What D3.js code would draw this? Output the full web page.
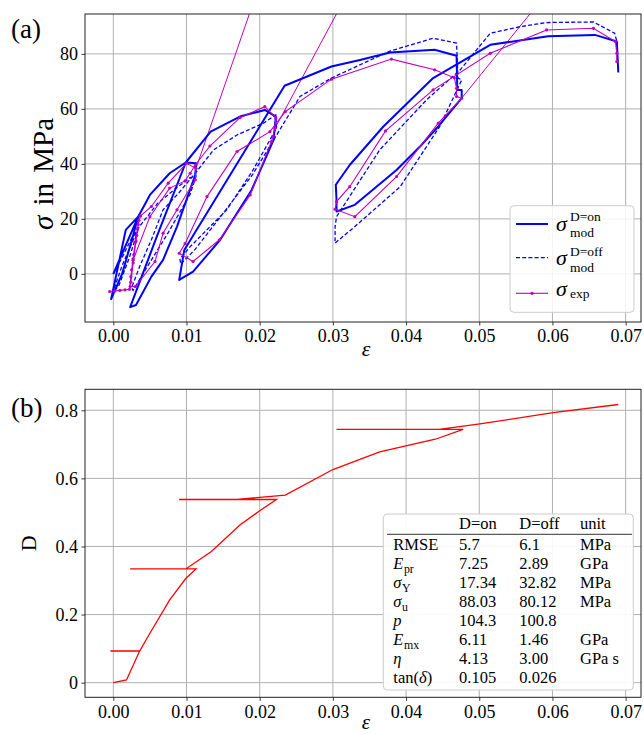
<!DOCTYPE html>
<html>
<head>
<meta charset="utf-8">
<script src="https://cdn.jsdelivr.net/npm/d3@7"></script>
<style>
  body { margin: 0; background: #fff; }
  svg text { font-family: "Liberation Serif", "DejaVu Serif", serif; fill: #000; }
</style>
</head>
<body>
<svg id="chart" width="644" height="734"></svg>
<script>
// ---- data: stress–strain histories (strain, stress in MPa) ----
const sigmaModOn = [
  [0, 0], [0.0034, 20.8], [0.0025, 12], [0.0012, 0], [-0.0003, -9.2], [0.0017, 16], [0.0034, 20.8],
  [0.005, 28.7], [0.0077, 36.6], [0.0099, 40.5], [0.0113, 40.2], [0.0112, 36], [0.0087, 17.2],
  [0.0068, 5.1], [0.0052, -1], [0.0031, -11.3], [0.0023, -12.1], [0.006, 14], [0.0099, 40.5],
  [0.0133, 51.7], [0.0173, 57.2], [0.0207, 59.6], [0.0222, 57.2], [0.0219, 48.7], [0.0189, 30.5],
  [0.0146, 12.4], [0.0109, 0.8], [0.009, -2.2], [0.0097, 8.7], [0.0234, 68.4], [0.0298, 75.4],
  [0.0337, 77.8], [0.0378, 80.5], [0.0439, 81.5], [0.0469, 79.3], [0.047, 66.9], [0.0476, 66.9],
  [0.0476, 63.9], [0.0444, 53.6], [0.0419, 46.3], [0.0387, 37.8], [0.033, 25.1], [0.0305, 22.7],
  [0.0305, 26.5], [0.0304, 32.4], [0.0323, 39.6], [0.0369, 53.6], [0.0437, 71.2], [0.0515, 83.3],
  [0.0594, 86.4], [0.0658, 86.9], [0.0688, 84.5], [0.069, 73.2]
];
const sigmaModOff = [
  [0, 0], [0.0012, 6], [0.0025, 13], [0.0035, 17], [0.0022, 6], [0.0008, -4], [-0.0001, -7],
  [0.0012, 3], [0.0025, 11], [0.0035, 17], [0.006, 25.5], [0.0085, 31], [0.0105, 35], [0.0113, 35.5],
  [0.0105, 29], [0.0075, 15], [0.0045, 2], [0.0027, -6], [0.0025, -5], [0.0036, 2.7], [0.0052, 12.4],
  [0.0068, 23.3], [0.0089, 29.3], [0.0112, 36.6], [0.0137, 45.1], [0.0169, 50.5], [0.0205, 54.8],
  [0.0222, 57.8], [0.0223, 53], [0.0191, 37.8], [0.0155, 23.3], [0.0105, 9.9], [0.0091, 5.5],
  [0.0092, 3.5], [0.0112, 9], [0.015, 22], [0.019, 36], [0.0222, 50], [0.0255, 64.5], [0.0298, 71.2],
  [0.0345, 77], [0.0378, 81], [0.0437, 85.7], [0.0469, 83.9], [0.0471, 71.2], [0.0476, 70.5],
  [0.0446, 53.6], [0.0392, 31.7], [0.033, 17.2], [0.0303, 11.2], [0.0303, 17.2], [0.0305, 20.8],
  [0.0364, 45.1], [0.0428, 63.3], [0.0474, 74.2], [0.0515, 87.5], [0.0556, 89.9], [0.0592, 91.4],
  [0.0656, 91.6], [0.0685, 87.5], [0.0689, 83.5]
];
const sigmaExp = [
  [-0.0005, -6.4], [0.0002, -6.2], [0.0009, -6.0], [0.0016, -5.8], [0.0022, -5.6], [0.0024, -1.0],
  [0.0027, 5.5], [0.003, 11.5], [0.0033, 16.5], [0.0035, 19.5], [0.0032, 14], [0.0028, 7],
  [0.0025, 1.5], [0.0024, -3], [0.0027, 4], [0.0031, 12], [0.0034, 18], [0.0037, 21],
  [0.0052, 24.5], [0.0075, 33], [0.01, 40.2], [0.0113, 38.4], [0.0112, 34.2], [0.0087, 23.3],
  [0.0068, 14.8], [0.0057, 4.5], [0.003, -4.6], [0.0023, -4.6], [0.0027, 5], [0.005, 20.8],
  [0.0077, 31.2], [0.0098, 33.8], [0.0105, 36.6], [0.0112, 39.6], [0.0132, 46.5], [0.0173, 56.8],
  [0.0207, 60.8], [0.0222, 56.8], [0.0221, 53], [0.0218, 50], [0.0216, 48.1], [0.0187, 28.7],
  [0.0145, 12.4], [0.0109, 4.5], [0.009, 7.5], [0.0098, 11], [0.0128, 28.1], [0.0169, 44.5],
  [0.0214, 51.7], [0.0235, 59], [0.0298, 70.8], [0.038, 78.1], [0.0439, 74.2], [0.0466, 71.3],
  [0.0469, 67.5], [0.0469, 64.5], [0.0476, 63.9], [0.0444, 54.8], [0.0387, 35.4], [0.033, 20.8],
  [0.0303, 23.5], [0.0305, 26.3], [0.0323, 31.7], [0.0372, 52], [0.0437, 66.9], [0.0515, 80.2],
  [0.0592, 88.7], [0.0656, 89.3], [0.0686, 84.5], [0.0688, 80.2], [0.0688, 77.2]
];
// reloading stiffness lines of the experiment (start point, end point beyond the top)
const expStiffnessLines = [
  [[0.0113, 38.4], [0.0193, 100]],
  [[0.0221, 53.0], [0.0316, 100]],
  [[0.0476, 63.9], [0.0586, 100]]
];
// damage variable over strain
const damage = [
  [0, 0], [0.0018, 0.008], [0.0036, 0.093], [-0.0004, 0.093], [0.0036, 0.093], [0.005, 0.145],
  [0.0077, 0.243], [0.0099, 0.306], [0.0113, 0.334], [0.0023, 0.334], [0.0099, 0.334],
  [0.0134, 0.385], [0.0173, 0.463], [0.02, 0.505], [0.0223, 0.538], [0.009, 0.538], [0.0169, 0.538],
  [0.0235, 0.551], [0.03, 0.626], [0.0364, 0.678], [0.044, 0.715], [0.0478, 0.744], [0.0305, 0.744],
  [0.0445, 0.744], [0.0501, 0.76], [0.0601, 0.793], [0.069, 0.817]
];
const strainTicks = [0, 0.01, 0.02, 0.03, 0.04, 0.05, 0.06, 0.07];
const stressTicks = [0, 20, 40, 60, 80];
const damageTicks = [0, 0.2, 0.4, 0.6, 0.8];
const damageTickLabels = ["0", "0.2", "0.4", "0.6", "0.8"];

// fitted parameter table
const paramLabels = ["RMSE", "*E*_pr", "*σ*_Y", "*σ*_u", "*p*", "*E*_mx", "*η*", "tan(*δ*)"];
const valuesOn = ["5.7", "7.25", "17.34", "88.03", "104.3", "6.11", "4.13", "0.105"];
const valuesOff = ["6.1", "2.89", "32.82", "80.12", "100.8", "1.46", "3.00", "0.026"];
const paramUnits = ["MPa", "GPa", "MPa", "MPa", "", "GPa", "GPa s", ""];
const tableHeader = ["", "D=on", "D=off", "unit"];

// ---- layout ----
const svg = d3.select("#chart");
const C_ON = "#0000ff", C_EXP = "#bf00bf", C_D = "#ff0000";
const GRID = "#b0b0b0";
const boxA = { left: 85, right: 641, top: 14, bottom: 322 };
const boxB = { left: 85, right: 641, top: 389.3, bottom: 697.3 };
const xDomain = [-0.00387, 0.0721];

const xA = d3.scaleLinear().domain(xDomain).range([boxA.left, boxA.right]);
const yA = d3.scaleLinear().domain([-17.5, 94.5]).range([boxA.bottom, boxA.top]);
const xB = d3.scaleLinear().domain(xDomain).range([boxB.left, boxB.right]);
const yB = d3.scaleLinear().domain([-0.043, 0.8617]).range([boxB.bottom, boxB.top]);

const defs = svg.append("defs");
function clip(id, b) {
  defs.append("clipPath").attr("id", id).append("rect")
    .attr("x", b.left).attr("y", b.top).attr("width", b.right - b.left).attr("height", b.bottom - b.top);
}
clip("clipA", boxA); clip("clipB", boxB);

function grid(g, x, y, xt, yt, b) {
  g.selectAll(null).data(xt).enter().append("line")
    .attr("x1", d => x(d)).attr("x2", d => x(d)).attr("y1", b.top).attr("y2", b.bottom)
    .attr("stroke", GRID).attr("stroke-width", 1);
  g.selectAll(null).data(yt).enter().append("line")
    .attr("y1", d => y(d)).attr("y2", d => y(d)).attr("x1", b.left).attr("x2", b.right)
    .attr("stroke", GRID).attr("stroke-width", 1);
}

function axes(x, y, b, yTicks, yFmt, pad) {
  const ax = svg.append("g").attr("transform", `translate(0,${b.bottom})`)
    .call(d3.axisBottom(x).tickValues(strainTicks).tickFormat(d3.format(".2f")).tickSize(3.5).tickPadding(pad));
  const ay = svg.append("g").attr("transform", `translate(${b.left},0)`)
    .call(d3.axisLeft(y).tickValues(yTicks).tickFormat(yFmt).tickSize(3.5).tickPadding(3.5));
  [ax, ay].forEach(a => {
    a.select(".domain").remove();
    a.selectAll(".tick line").attr("stroke", "#222").attr("stroke-width", 0.9);
    a.selectAll(".tick text").attr("font-size", 18).attr("font-family", "Liberation Serif");
  });
  svg.append("rect").attr("x", b.left).attr("y", b.top)
    .attr("width", b.right - b.left).attr("height", b.bottom - b.top)
    .attr("fill", "none").attr("stroke", "#222").attr("stroke-width", 1);
}

// ---- panel (a) ----
const gA = svg.append("g");
grid(gA, xA, yA, strainTicks, stressTicks, boxA);
const lineA = d3.line().x(d => xA(d[0])).y(d => yA(d[1]));
const plotA = svg.append("g").attr("clip-path", "url(#clipA)");

plotA.selectAll(".stiff").data(expStiffnessLines).enter().append("path")
  .attr("d", lineA).attr("fill", "none").attr("stroke", C_EXP).attr("stroke-width", 1);
plotA.append("path").datum(sigmaModOff).attr("d", lineA).attr("fill", "none")
  .attr("stroke", C_ON).attr("stroke-width", 1.3).attr("stroke-dasharray", "4,2.2");
plotA.append("path").datum(sigmaModOn).attr("d", lineA).attr("fill", "none")
  .attr("stroke", C_ON).attr("stroke-width", 2).attr("stroke-linejoin", "round");
plotA.append("path").datum(sigmaExp).attr("d", lineA).attr("fill", "none")
  .attr("stroke", C_EXP).attr("stroke-width", 1.1);
plotA.selectAll(".mk").data(sigmaExp).enter().append("circle")
  .attr("cx", d => xA(d[0])).attr("cy", d => yA(d[1])).attr("r", 1.6).attr("fill", C_EXP);

axes(xA, yA, boxA, stressTicks, d3.format("d"), 3.5);

// legend
const lg = svg.append("g");
lg.append("rect").attr("x", 510).attr("y", 205.7).attr("width", 124).attr("height", 106.6)
  .attr("rx", 4).attr("fill", "#fff").attr("fill-opacity", 0.85).attr("stroke", "#cccccc").attr("stroke-width", 1);
const legendRows = [
  { y: 224, dash: null, w: 2, sup: "D=on", sub: "mod", sb: 231, supB: 220.5, subB: 236.5 },
  { y: 257.7, dash: "4,2.2", w: 1.3, sup: "D=off", sub: "mod", sb: 265, supB: 255.5, subB: 271.5 },
  { y: 293.3, dash: null, w: 1.1, sup: null, sub: "exp", sb: 295.5, supB: 0, subB: 298, marker: true }
];
legendRows.forEach(r => {
  const col = r.marker ? C_EXP : C_ON;
  lg.append("line").attr("x1", 516).attr("x2", 548).attr("y1", r.y).attr("y2", r.y)
    .attr("stroke", col).attr("stroke-width", r.w).attr("stroke-dasharray", r.dash);
  if (r.marker) lg.append("circle").attr("cx", 532).attr("cy", r.y).attr("r", 1.6).attr("fill", col);
  lg.append("text").attr("x", 556).attr("y", r.sb).attr("font-size", 22).attr("font-style", "italic").text("σ");
  if (r.sup) lg.append("text").attr("x", 570).attr("y", r.supB).attr("font-size", 13.5).text(r.sup);
  lg.append("text").attr("x", 570).attr("y", r.subB).attr("font-size", 13.5).text(r.sub);
});

// axis labels (a)
svg.append("text").attr("x", 366).attr("y", 356).attr("text-anchor", "middle")
  .attr("font-size", 22).attr("font-style", "italic").text("ε");
svg.append("text").attr("transform", "translate(53,174) rotate(-90)").attr("text-anchor", "middle")
  .attr("font-size", 29).attr("word-spacing", 3)
  .call(t => {
    t.append("tspan").attr("font-style", "italic").text("σ");
    t.append("tspan").text(" in MPa");
  });
svg.append("text").attr("x", 11).attr("y", 37.5).attr("font-size", 27).text("(a)");

// ---- panel (b) ----
const gB = svg.append("g");
grid(gB, xB, yB, strainTicks, damageTicks, boxB);
const lineB = d3.line().x(d => xB(d[0])).y(d => yB(d[1]));
svg.append("g").attr("clip-path", "url(#clipB)").append("path").datum(damage)
  .attr("d", lineB).attr("fill", "none").attr("stroke", C_D).attr("stroke-width", 1.3);
axes(xB, yB, boxB, damageTicks, (d, i) => damageTickLabels[i], 4.5);

svg.append("text").attr("x", 366).attr("y", 728.5).attr("text-anchor", "middle")
  .attr("font-size", 21).attr("font-style", "italic").text("ε");
svg.append("text").attr("transform", "translate(36,543.3) rotate(-90)").attr("text-anchor", "middle")
  .attr("font-size", 22).text("D");
svg.append("text").attr("x", 11).attr("y", 417).attr("font-size", 27).text("(b)");

// parameter table
const tb = svg.append("g");
tb.append("rect").attr("x", 383.3).attr("y", 514).attr("width", 250).attr("height", 176)
  .attr("rx", 4).attr("fill", "#fff").attr("fill-opacity", 0.92).attr("stroke", "#cccccc").attr("stroke-width", 1);
const colX = [393.3, 459, 519.3, 580];
const tfs = 16.5;
tableHeader.forEach((h, i) => {
  if (h) tb.append("text").attr("x", colX[i]).attr("y", 529.3).attr("font-size", tfs).text(h);
});
tb.append("line").attr("x1", 387).attr("x2", 632).attr("y1", 534.3).attr("y2", 534.3)
  .attr("stroke", "#333").attr("stroke-width", 1);

function richLabel(sel, label) {
  // *...* marks italic math symbols, a trailing _xx is set as a roman subscript
  let main = label, sub = null;
  const us = label.indexOf("_");
  if (us >= 0) { main = label.slice(0, us); sub = label.slice(us + 1); }
  main.split("*").forEach((part, k) => {
    if (!part) return;
    sel.append("tspan").attr("font-style", k % 2 ? "italic" : "normal").text(part);
  });
  if (sub) sel.append("tspan").attr("font-size", tfs * 0.72).attr("dy", 4).attr("dx", 0.5).text(sub);
}
paramLabels.forEach((lab, i) => {
  const yb = 550 + i * 18.96;
  richLabel(tb.append("text").attr("x", colX[0]).attr("y", yb).attr("font-size", tfs), lab);
  tb.append("text").attr("x", colX[1]).attr("y", yb).attr("font-size", tfs).text(valuesOn[i]);
  tb.append("text").attr("x", colX[2]).attr("y", yb).attr("font-size", tfs).text(valuesOff[i]);
  if (paramUnits[i]) tb.append("text").attr("x", colX[3]).attr("y", yb).attr("font-size", tfs).text(paramUnits[i]);
});
</script>
</body>
</html>
